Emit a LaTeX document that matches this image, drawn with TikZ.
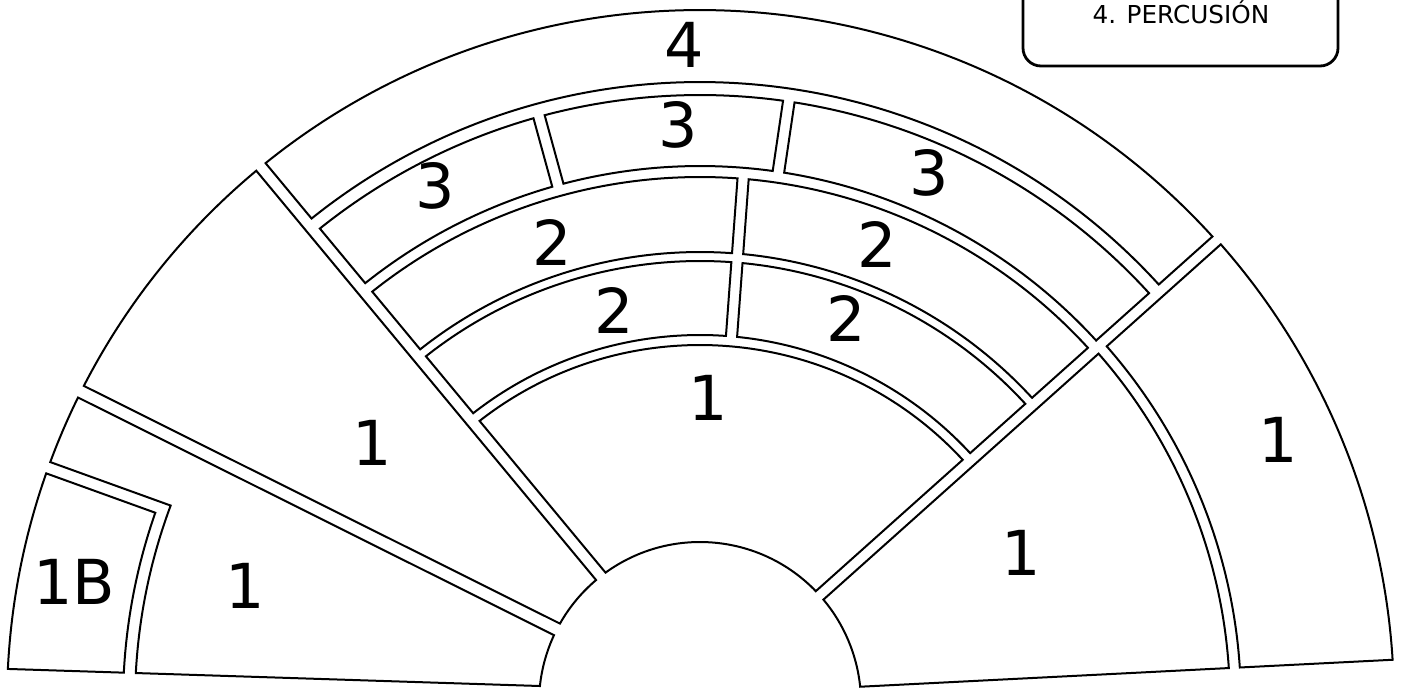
\documentclass[tikz,border=0pt]{standalone}
\usepackage{fontspec}
\setmainfont{DejaVu Sans}

\newcommand{\seatblock}[4]{%
  \draw[seat] ({#2(#3)}:#3) -- ({#2(#4)}:#4)
    arc[start angle={#2(#4)}, end angle={#1(#4)}, radius=#4]
    -- ({#1(#3)}:#3)
    arc[start angle={#1(#3)}, end angle={#2(#3)}, radius=#3] -- cycle;}

\begin{document}
\begin{tikzpicture}[
x=0.5pt,y=0.5pt,
seat/.style={draw,line width=1pt},
num/.style={font=\fontsize{31}{36}\selectfont,inner sep=0pt},
legend/.style={draw,line width=1.4pt,rounded corners=9pt},
declare function={
fanl(\r)=129.7-asin(10.6/\r);
ulr(\r)=129.7+asin(1.4/\r);
ull(\r)=153.47-asin(8.5/\r);
lor(\r)=153.47+asin(4.5/\r);
notch(\r)=160.15-asin(6/\r);
bbr(\r)=160.15+asin(6/\r);
botl(\r)=178.16-asin(11.85/\r);
fanr(\r)=41.8+asin(6.2/\r);
rtl(\r)=41.8-asin(5.2/\r);
botr(\r)=2.9+asin(8.16/\r);
cutal(\r)=105.35+asin(5.8/\r);
cutar(\r)=105.35-asin(5.8/\r);
cutbl(\r)=81.6+asin(5.8/\r);
cutbr(\r)=81.6-asin(5.8/\r);
midl(\r)=85.8+asin(1/\r);
midr(\r)=85.8-asin(10.2/\r);
}]
\useasboundingbox (0,0) rectangle (1404,-687);
\clip (0,0) rectangle (1404,-687);

\draw[legend] (1023,30) rectangle (1338,-66);
\node[anchor=base,font=\fontsize{12.35}{14}\selectfont] (perc) at (1181,-23) {4. PERCUSIÓN};

\begin{scope}[shift={(700,-703)}]
\seatblock{fanl}{fanr}{621}{693}
\seatblock{fanl}{cutal}{537}{608}
\seatblock{cutar}{cutbl}{537}{608}
\seatblock{cutbr}{fanr}{537}{608}
\seatblock{fanl}{midl}{451}{526}
\seatblock{midr}{fanr}{451}{526}
\seatblock{fanl}{midl}{368}{442}
\seatblock{midr}{fanr}{368}{442}
\seatblock{fanl}{fanr}{161}{358}
\seatblock{ull}{ulr}{161}{693}
\seatblock{botl}{bbr}{577}{693}
\seatblock{rtl}{botr}{541}{694}
\seatblock{rtl}{botr}{161}{530}
\draw[seat] ({lor(161)}:161) -- ({lor(693)}:693)
  arc[start angle={lor(693)}, end angle={notch(693)}, radius=693]
  -- ({notch(565)}:565)
  arc[start angle={notch(565)}, end angle={botl(565)}, radius=565]
  -- ({botl(161)}:161) arc[start angle={botl(161)}, end angle={lor(161)}, radius=161] -- cycle;
\end{scope}

\node[num] (timp) at (684,-45) {4};
\node[num] (winda) at (435,-186) {3};
\node[num] (windb) at (678,-125) {3};
\node[num] (windc) at (929,-173) {3};
\node[num] (vla) at (552,-242) {2};
\node[num] (vlb) at (877,-244) {2};
\node[num] (vlc) at (614,-310) {2};
\node[num] (vld) at (846,-318) {2};
\node[num] (vln) at (708,-398) {1};
\node[num] (vlul) at (372,-443) {1};
\node[num] (vlll) at (245,-586) {1};
\node[num] (cb) at (74,-582) {1B};
\node[num] (vcr) at (1021,-553) {1};
\node[num] (vcf) at (1278,-440) {1};
\end{tikzpicture}
\end{document}
